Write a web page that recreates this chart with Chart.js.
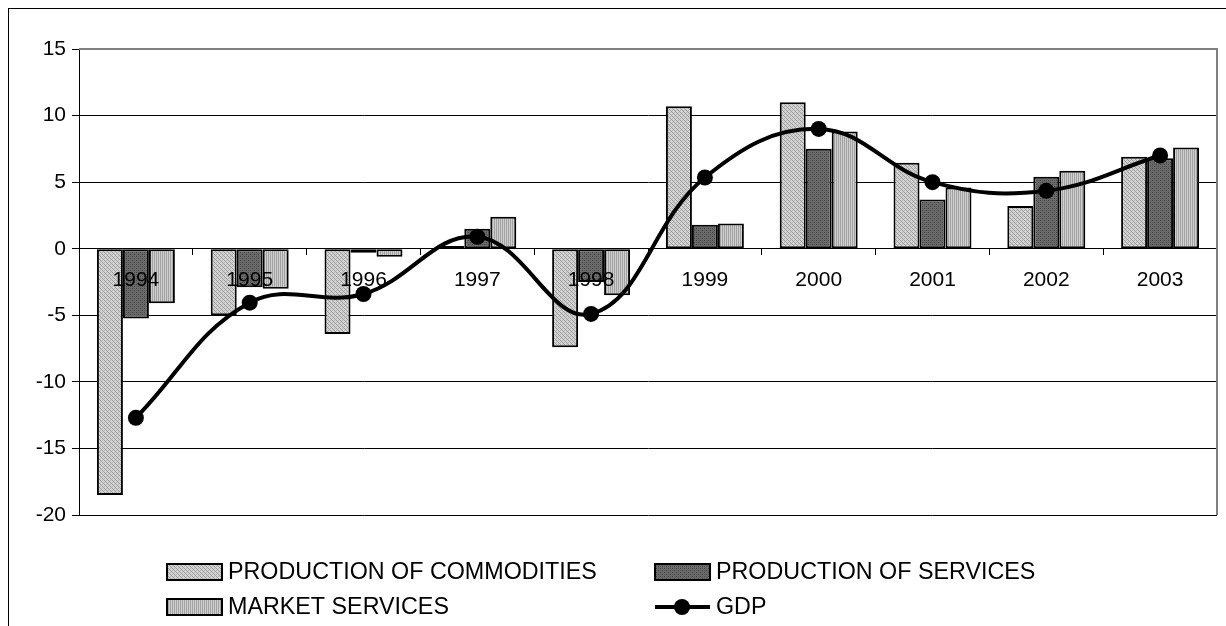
<!DOCTYPE html>
<html>
<head>
<meta charset="utf-8">
<script src="https://cdn.jsdelivr.net/npm/chart.js@4.4.1/dist/chart.umd.min.js"></script>
<style>
    html, body { margin: 0; padding: 0; background: #fff; overflow: hidden; }
    #wrap { position: relative; width: 1226px; height: 626px; }
    #frame { position: absolute; left: 8px; top: 8px; width: 1300px; height: 700px; border: 1px solid #000; }
    #chart { position: absolute; left: 0; top: 0; }
</style>
</head>
<body>
<div id="wrap">
    <div id="frame"></div>
    <canvas id="chart" width="1226" height="626"></canvas>
</div>
<script>
// Dados do gráfico
const years = ['1994', '1995', '1996', '1997', '1998', '1999', '2000', '2001', '2002', '2003'];
const commodities = [-18.5, -5.0, -6.4, 0.2, -7.4, 10.7, 11.0, 6.45, 3.2, 6.9];
const services = [-5.25, -2.9, -0.3, 1.5, -2.5, 1.8, 7.5, 3.7, 5.4, 6.8];
const marketServices = [-4.1, -3.0, -0.6, 2.4, -3.5, 1.9, 8.8, 4.6, 5.85, 7.6];
const gdp = [-12.7, -4.05, -3.4, 0.9, -4.9, 5.35, 9.0, 5.0, 4.35, 7.0];
const yTicks = { min: -20, max: 15, step: 5 };

const FONT = '"Liberation Sans", Arial, sans-serif';

// Padrões de preenchimento (tipo Excel)
function makePattern(size, base, dots) {
    const c = document.createElement('canvas');
    c.width = size;
    c.height = size;
    const g = c.getContext('2d');
    g.fillStyle = base;
    g.fillRect(0, 0, size, size);
    dots.forEach(d => {
        g.fillStyle = d[2];
        g.fillRect(d[0], d[1], 1, 1);
    });
    return g.createPattern(c, 'repeat');
}

const ctx = document.getElementById('chart').getContext('2d');

const patCommodities = makePattern(4, '#d4d4d4', [
    [0, 0, '#9a9a9a'], [1, 1, '#9a9a9a'], [2, 2, '#9a9a9a'], [3, 3, '#9a9a9a'],
    [2, 0, '#b4b4b4'], [0, 2, '#b4b4b4']
]);
const patServices = makePattern(4, '#6a6a6a', [
    [0, 0, '#444'], [2, 2, '#444'], [2, 0, '#555'], [0, 2, '#555']
]);
const patMarket = makePattern(2, '#cfcfcf', [
    [0, 0, '#a2a2a2'], [0, 1, '#a2a2a2']
]);

// Moldura cinza (topo e direita da área do gráfico)
const plotFrame = {
    id: 'plotFrame',
    afterDatasetsDraw(chart) {
        const a = chart.chartArea;
        const c = chart.ctx;
        c.save();
        c.strokeStyle = '#808080';
        c.lineWidth = 2;
        c.beginPath();
        c.moveTo(a.left, a.top);
        c.lineTo(a.right, a.top);
        c.lineTo(a.right, a.bottom);
        c.stroke();
        c.restore();
    }
};

// Legenda em duas colunas
const gridLegend = {
    id: 'gridLegend',
    afterDraw(chart) {
        const c = chart.ctx;
        const ds = chart.data.datasets;
        const slots = [[167, 564], [655, 564], [167, 599], [655, 599]];
        c.save();
        c.font = '23.3px ' + FONT;
        c.textBaseline = 'middle';
        c.fillStyle = '#000';
        ds.forEach((d, i) => {
            const [x, y] = slots[i];
            if (d.type === 'line') {
                c.strokeStyle = '#000';
                c.lineWidth = 4;
                c.beginPath();
                c.moveTo(x, y + 8);
                c.lineTo(x + 55, y + 8);
                c.stroke();
                c.beginPath();
                c.arc(x + 27, y + 8, 8, 0, Math.PI * 2);
                c.fill();
            } else {
                c.fillStyle = d.backgroundColor;
                c.fillRect(x, y, 55, 16);
                c.strokeStyle = '#000';
                c.lineWidth = 2;
                c.strokeRect(x, y, 55, 16);
            }
            c.fillStyle = '#000';
            c.fillText(d.label, x + 61, y + 9);
        });
        c.restore();
    }
};

const barStyle = {
    borderColor: '#000',
    borderWidth: 2,
    borderSkipped: false,
    categoryPercentage: 0.685,
    barPercentage: 1.0,
    order: 1
};

new Chart(ctx, {
    type: 'bar',
    data: {
        labels: years,
        datasets: [
            { label: 'PRODUCTION OF COMMODITIES', data: commodities, backgroundColor: patCommodities, ...barStyle },
            { label: 'PRODUCTION OF SERVICES', data: services, backgroundColor: patServices, ...barStyle },
            { label: 'MARKET SERVICES', data: marketServices, backgroundColor: patMarket, ...barStyle },
            {
                type: 'line',
                label: 'GDP',
                data: gdp,
                borderColor: '#000',
                borderWidth: 4,
                backgroundColor: '#000',
                pointRadius: 8,
                pointHoverRadius: 8,
                pointBackgroundColor: '#000',
                pointBorderWidth: 0,
                tension: 0.4,
                fill: false,
                order: 0
            }
        ]
    },
    options: {
        responsive: false,
        animation: false,
        devicePixelRatio: 1,
        layout: {
            padding: { left: 0, top: 49, right: 9, bottom: 111 }
        },
        plugins: {
            legend: { display: false },
            tooltip: { enabled: false }
        },
        scales: {
            x: {
                position: { y: 0 },
                offset: true,
                grid: {
                    display: true,
                    drawOnChartArea: false,
                    drawTicks: true,
                    tickLength: 6,
                    color: '#000',
                    offset: true
                },
                border: { display: true, color: '#000', width: 1 },
                ticks: {
                    z: 1,
                    color: '#000',
                    padding: 13,
                    font: { family: FONT, size: 21 },
                    maxRotation: 0
                }
            },
            y: {
                min: yTicks.min,
                max: yTicks.max,
                afterFit(scale) {
                    scale.width = 79;
                },
                grid: {
                    color: '#000',
                    lineWidth: 1,
                    tickLength: 7
                },
                border: { display: true, color: '#000', width: 1 },
                ticks: {
                    stepSize: yTicks.step,
                    color: '#000',
                    padding: 6,
                    font: { family: FONT, size: 21 }
                }
            }
        }
    },
    plugins: [plotFrame, gridLegend]
});
</script>
</body>
</html>
